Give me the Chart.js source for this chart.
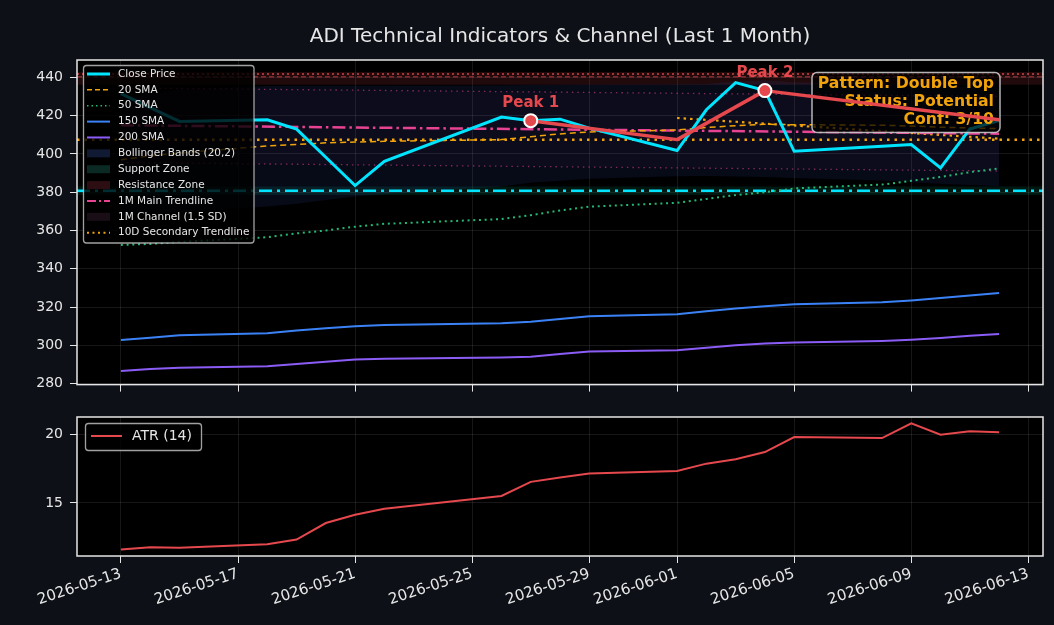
<!DOCTYPE html>
<html>
<head>
<meta charset="utf-8">
<script src="https://cdn.jsdelivr.net/npm/chart.js@4.4.1/dist/chart.umd.min.js"></script>
<style>
  html, body { margin: 0; padding: 0; background: #0d1117; }
  #wrap { position: relative; width: 1054px; height: 625px; overflow: hidden; }
  canvas { position: absolute; left: 0; }
  #priceChart { top: 0; }
  #atrChart { top: 400px; }
</style>
</head>
<body>
<div id="wrap">
  <canvas id="priceChart" width="1054" height="400"></canvas>
  <canvas id="atrChart" width="1054" height="225"></canvas>
</div>
<script>
// trading days shown (May 25 is a market holiday)
const dates = ['2026-05-13','2026-05-14','2026-05-15','2026-05-18','2026-05-19','2026-05-20','2026-05-21','2026-05-22',
  '2026-05-26','2026-05-27','2026-05-28','2026-05-29','2026-06-01','2026-06-02','2026-06-03','2026-06-04','2026-06-05',
  '2026-06-08','2026-06-09','2026-06-10','2026-06-11','2026-06-12'];

const closePrice = [431.5, 424.2, 417.0, 417.9, 413.0, 398.3, 383.5, 396.2, 419.3, 417.4, 418.2, 413.5, 401.8, 423.1, 437.3, 433.1, 401.4, 404.0, 404.9, 392.7, 413.0, 417.5];
const sma20 = [397.0, 399.0, 400.5, 404.2, 405.0, 405.8, 406.2, 406.6, 407.5, 409.0, 410.5, 411.5, 412.5, 413.8, 414.8, 415.5, 415.3, 415.0, 414.6, 414.0, 413.6, 413.2];
const sma50 = [352.5, 353.0, 354.0, 356.5, 358.5, 360.0, 362.0, 363.5, 366.0, 368.0, 370.5, 372.5, 374.5, 376.5, 378.5, 380.0, 382.0, 384.0, 386.0, 388.0, 390.5, 392.5];
const sma150 = [302.8, 304.0, 305.3, 306.3, 307.8, 309.0, 310.0, 310.7, 311.6, 312.3, 313.8, 315.2, 316.2, 317.8, 319.3, 320.5, 321.5, 322.5, 323.5, 324.8, 326.0, 327.4];
const sma200 = [286.6, 287.6, 288.3, 289.1, 290.2, 291.4, 292.6, 293.0, 293.6, 294.0, 295.5, 296.8, 297.5, 298.8, 300.0, 301.0, 301.5, 302.3, 302.9, 303.8, 305.0, 306.0];
const bbUpper = [428.0, 431.0, 433.5, 435.5, 435.6, 435.6, 435.6, 435.6, 435.8, 436.0, 436.2, 436.3, 436.4, 436.5, 438.0, 438.5, 437.5, 436.5, 436.0, 435.5, 435.0, 434.5];
const bbLower = [368.0, 368.5, 369.5, 372.5, 374.0, 376.0, 377.8, 379.0, 383.0, 385.0, 386.0, 387.0, 388.3, 388.5, 388.2, 388.0, 387.5, 386.2, 385.2, 384.5, 383.8, 383.2];
const atr14 = [11.59, 11.76, 11.72, 11.98, 12.32, 13.53, 14.13, 14.57, 15.51, 16.54, 16.85, 17.15, 17.34, 17.87, 18.19, 18.72, 19.81, 19.74, 20.82, 19.98, 20.24, 20.17];

// trendlines (start / end values)
const trendDates = ['2026-05-13', '2026-06-12'];
const mainTrend = [415.0, 410.6];
const channelUpper = [434.5, 430.1];
const channelLower = [395.5, 391.1];
const trend10Dates = ['2026-06-01', '2026-06-12'];
const trend10 = [418.8, 408.0];

// double top pattern
const patternDates = ['2026-05-27', '2026-06-01', '2026-06-04', '2026-06-12'];
const patternPrices = [417.4, 407.5, 433.1, 417.9];
const peakDates = ['2026-05-27', '2026-06-04'];
const peakNames = ['Peak 1', 'Peak 2'];
const patternText = ['Pattern: Double Top', 'Status: Potential', 'Conf: 3/10'];

// horizontal levels
const necklineLevel = 407.4;
const supportLevel = 380.8;
const supportZone = [383.0, 378.6];
const resistanceLevels = [441.8, 440.3];
const resistanceZone = [442.8, 436.2];

const xTickLabels = ['2026-05-13','2026-05-17','2026-05-21','2026-05-25','2026-05-29','2026-06-01','2026-06-05','2026-06-09','2026-06-13'];
const priceTicks = [280, 300, 320, 340, 360, 380, 400, 420, 440];
const atrTicks = [15, 20];

const legendLabels = ['Close Price', '20 SMA', '50 SMA', '150 SMA', '200 SMA', 'Bollinger Bands (20,2)', 'Support Zone',
  'Resistance Zone', '1M Main Trendline', '1M Channel (1.5 SD)', '10D Secondary Trendline'];

const CYAN = '#00e5ff', ORANGE = '#f0a30a', GREEN = '#25b875', BLUE = '#3b82f6', PURPLE = '#8b5cf6';
const PINK = '#e84393', RED = '#e5484d', TXT = '#e6e6e6', GRID = 'rgba(255,255,255,0.09)';

Chart.defaults.font.family = 'DejaVu Sans';

const day0 = Date.parse(dates[0] + 'T00:00:00Z');
const dayOf = s => (Date.parse(s + 'T00:00:00Z') - day0) / 864e5;
const span = dayOf(dates[dates.length - 1]);
const X_MIN = -span * 0.05, X_MAX = span * 1.05;

const pts = (xs, ys) => xs.map((d, i) => ({ x: dayOf(d), y: ys[i] }));
const hline = v => [{ x: X_MIN, y: v }, { x: X_MAX, y: v }];

function line(data, color, width, dash, extra) {
  return Object.assign({
    type: 'line', data, borderColor: color, borderWidth: width, borderDash: dash || [],
    pointRadius: 0, pointHoverRadius: 0, tension: 0, fill: false, borderCapStyle: 'butt'
  }, extra || {});
}
function band(data, fillColor, toNext) {
  return line(data, 'transparent', 1, [], toNext ? { fill: '+1', backgroundColor: fillColor } : {});
}

const xAxis = (showLabels, h) => ({
  type: 'linear', min: X_MIN, max: X_MAX,
  afterBuildTicks: s => { s.ticks = xTickLabels.map(d => ({ value: dayOf(d) })); },
  afterFit: s => { s.height = h; },
  grid: { color: GRID, tickColor: TXT, tickLength: 7 },
  border: { display: false },
  ticks: {
    display: showLabels, color: TXT, font: { size: 15 }, autoSkip: false,
    minRotation: 18, maxRotation: 18, padding: 2,
    callback: (v, i) => xTickLabels[i]
  }
});
const yAxis = (min, max, tickVals) => ({
  min, max,
  afterBuildTicks: s => { s.ticks = tickVals.map(v => ({ value: v })); },
  afterFit: s => { s.width = 77; },
  grid: { color: GRID, tickColor: TXT, tickLength: 7 },
  border: { display: false },
  ticks: { color: TXT, font: { size: 14 }, padding: 7 }
});

const frame = {
  id: 'frame',
  beforeDraw(chart) {
    const a = chart.chartArea, ctx = chart.ctx;
    ctx.save();
    ctx.fillStyle = '#000';
    ctx.fillRect(a.left, a.top, a.right - a.left, a.bottom - a.top);
    ctx.restore();
  },
  afterDraw(chart) {
    const a = chart.chartArea, ctx = chart.ctx;
    ctx.save();
    ctx.strokeStyle = TXT;
    ctx.lineWidth = 1.5;
    ctx.strokeRect(a.left, a.top, a.right - a.left, a.bottom - a.top);
    ctx.restore();
  }
};

function legendHandle(ctx, x, y, st) {
  if (st.patch) {
    ctx.fillStyle = st.patch;
    ctx.fillRect(x, y - 4, 23, 8);
    return;
  }
  ctx.strokeStyle = st.color;
  ctx.lineWidth = st.w;
  ctx.setLineDash(st.dash || []);
  ctx.beginPath();
  ctx.moveTo(x, y);
  ctx.lineTo(x + 23, y);
  ctx.stroke();
  ctx.setLineDash([]);
}

const legendStyles = [
  { color: CYAN, w: 3 },
  { color: ORANGE, w: 1.5, dash: [5, 3] },
  { color: GREEN, w: 1.5, dash: [1.5, 3] },
  { color: BLUE, w: 2 },
  { color: PURPLE, w: 2 },
  { patch: '#111a33' },
  { patch: '#0b2a24' },
  { patch: '#2d0e12' },
  { color: PINK, w: 2, dash: [9, 3, 2, 3] },
  { patch: '#190e16' },
  { color: ORANGE, w: 2, dash: [2, 3.5] }
];

const priceDecor = {
  id: 'priceDecor',
  afterDatasetDraw(chart, args) {
    if (args.index !== 1) return;
    // pattern info box sits above the close line but below the pattern line
    const ctx = chart.ctx, a = chart.chartArea;
    const right = a.right - 43, top = a.top + 12.5;
    ctx.save();
    ctx.beginPath();
    ctx.roundRect(right - 188, top, 188, 60, 5);
    ctx.fillStyle = 'rgba(0,0,0,0.72)';
    ctx.fill();
    ctx.strokeStyle = 'rgba(210,210,210,0.85)';
    ctx.lineWidth = 1.5;
    ctx.stroke();
    ctx.font = 'bold 15.7px DejaVu Sans';
    ctx.fillStyle = ORANGE;
    ctx.textAlign = 'right';
    ctx.textBaseline = 'middle';
    patternText.forEach((t, i) => ctx.fillText(t, right - 6, top + 11.5 + i * 18.2));
    ctx.restore();
  },
  afterDatasetsDraw(chart) {
    const ctx = chart.ctx;
    ctx.save();
    // peak labels
    const meta = chart.getDatasetMeta(0);
    ctx.font = 'bold 15px DejaVu Sans';
    ctx.fillStyle = RED;
    ctx.textAlign = 'center';
    ctx.textBaseline = 'middle';
    peakDates.forEach((d, k) => {
      const p = meta.data[patternDates.indexOf(d)];
      ctx.fillText(peakNames[k], p.x, p.y - 18);
    });
    // legend
    ctx.beginPath();
    ctx.roundRect(83.5, 65.5, 170.5, 177.5, 3);
    ctx.fillStyle = 'rgba(0,0,0,0.8)';
    ctx.fill();
    ctx.strokeStyle = 'rgba(200,200,200,0.8)';
    ctx.lineWidth = 1.3;
    ctx.stroke();
    ctx.font = '10.5px DejaVu Sans';
    ctx.textAlign = 'left';
    legendLabels.forEach((lab, i) => {
      const y = 74 + i * 15.87;
      legendHandle(ctx, 87, y, legendStyles[i]);
      ctx.fillStyle = TXT;
      ctx.fillText(lab, 118, y);
    });
    ctx.restore();
  },
  afterDraw(chart) {
    const ctx = chart.ctx, a = chart.chartArea;
    ctx.save();
    ctx.font = '20px DejaVu Sans';
    ctx.fillStyle = TXT;
    ctx.textAlign = 'center';
    ctx.textBaseline = 'middle';
    ctx.fillText('ADI Technical Indicators & Channel (Last 1 Month)', (a.left + a.right) / 2, 37);
    ctx.restore();
  }
};

const isPeak = c => peakDates.includes(patternDates[c.dataIndex]);

new Chart(document.getElementById('priceChart'), {
  type: 'line',
  data: {
    datasets: [
      line(pts(patternDates, patternPrices), RED, 3.5, [], {
        pointRadius: c => isPeak(c) ? 6.5 : 0, pointBackgroundColor: RED,
        pointBorderColor: '#ffffff', pointBorderWidth: 2, borderJoinStyle: 'round'
      }),
      line(pts(dates, closePrice), CYAN, 3, [], { borderJoinStyle: 'miter' }),
      line(pts(dates, sma20), ORANGE, 1.5, [6, 4]),
      line(pts(dates, sma50), GREEN, 2, [2, 3.7]),
      line(pts(dates, sma150), BLUE, 2),
      line(pts(dates, sma200), PURPLE, 2),
      line(pts(trendDates, mainTrend), PINK, 2.5, [13, 4, 2.5, 4]),
      line(pts(trend10Dates, trend10), ORANGE, 2.2, [2.5, 4]),
      line(hline(necklineLevel), ORANGE, 2.5, [2.5, 5]),
      line(hline(supportLevel), CYAN, 2.5, [13, 5, 3, 5]),
      line(hline(resistanceLevels[0]), 'rgba(229,72,77,0.9)', 1.5, [2, 3]),
      line(hline(resistanceLevels[1]), 'rgba(229,72,77,0.5)', 1.5, [5, 3]),
      line(pts(trendDates, channelUpper), 'rgba(232,67,147,0.55)', 1.3, [1.5, 4], { fill: '+1', backgroundColor: 'rgba(232,67,147,0.03)' }),
      line(pts(trendDates, channelLower), 'rgba(232,67,147,0.55)', 1.3, [1.5, 4]),
      band(pts(dates, bbUpper), 'rgba(59,90,200,0.12)', true),
      band(pts(dates, bbLower)),
      band(hline(supportZone[0]), 'rgba(0,200,150,0.12)', true),
      band(hline(supportZone[1])),
      band(hline(resistanceZone[0]), 'rgba(229,72,77,0.14)', true),
      band(hline(resistanceZone[1]))
    ]
  },
  options: {
    responsive: false, animation: false, devicePixelRatio: 1,
    layout: { padding: { top: 60, right: 11, left: 0, bottom: 0 } },
    plugins: { legend: { display: false }, tooltip: { enabled: false }, filler: { propagate: false } },
    scales: { x: xAxis(false, 14), y: yAxis(279.5, 449.1, priceTicks) }
  },
  plugins: [frame, priceDecor]
});

const atrLegend = {
  id: 'atrLegend',
  afterDatasetsDraw(chart) {
    const ctx = chart.ctx;
    ctx.save();
    ctx.beginPath();
    ctx.roundRect(85.5, 23.5, 116, 27, 3);
    ctx.fillStyle = 'rgba(0,0,0,0.8)';
    ctx.fill();
    ctx.strokeStyle = 'rgba(200,200,200,0.8)';
    ctx.lineWidth = 1.3;
    ctx.stroke();
    ctx.strokeStyle = RED;
    ctx.lineWidth = 2;
    ctx.beginPath(); ctx.moveTo(91, 36); ctx.lineTo(122, 36); ctx.stroke();
    ctx.font = '14px DejaVu Sans';
    ctx.fillStyle = TXT;
    ctx.textBaseline = 'middle';
    ctx.fillText('ATR (14)', 132, 36);
    ctx.restore();
  }
};

new Chart(document.getElementById('atrChart'), {
  type: 'line',
  data: { datasets: [line(pts(dates, atr14), RED, 2)] },
  options: {
    responsive: false, animation: false, devicePixelRatio: 1,
    layout: { padding: { top: 17, right: 11, left: 0, bottom: 0 } },
    plugins: { legend: { display: false }, tooltip: { enabled: false } },
    scales: { x: xAxis(true, 69), y: yAxis(11.12, 21.28, atrTicks) }
  },
  plugins: [frame, atrLegend]
});
</script>
</body>
</html>
